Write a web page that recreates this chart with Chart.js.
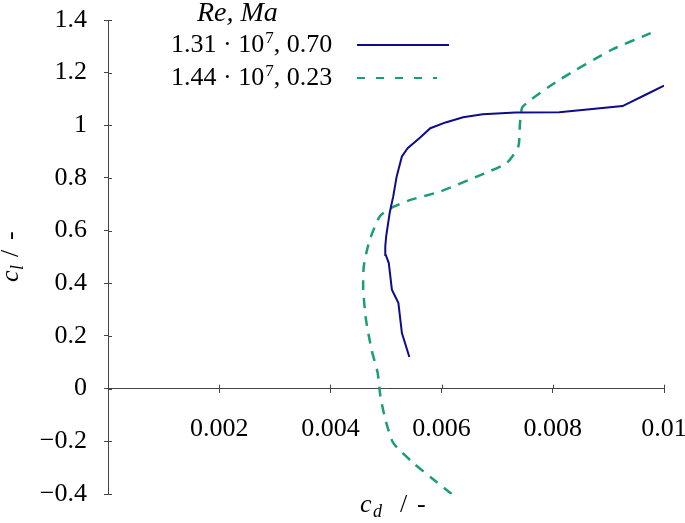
<!DOCTYPE html>
<html>
<head>
<meta charset="utf-8">
<script src="https://cdn.jsdelivr.net/npm/chart.js@4/dist/chart.umd.min.js"></script>
<style>
  html, body { margin: 0; padding: 0; background: #fff; }
  canvas { display: block; }
</style>
</head>
<body>
<canvas id="myChart" width="685" height="523"></canvas>
<script>
// tick values and labels
var xTicks = [0, 0.002, 0.004, 0.006, 0.008, 0.01];
var xTickLabels = ['', '0.002', '0.004', '0.006', '0.008', '0.01'];
var yTicks = [-0.4, -0.2, 0, 0.2, 0.4, 0.6, 0.8, 1, 1.2, 1.4];
var yTickLabels = ['\u22120.4', '\u22120.2', '0', '0.2', '0.4', '0.6', '0.8', '1', '1.2', '1.4'];

// Re = 1.31e7, Ma = 0.70
var cdHigh = [0.00542, 0.005286, 0.005223, 0.005106, 0.00505, 0.004996, 0.004987, 0.005003, 0.005066, 0.00513,
              0.005192, 0.005286, 0.005389, 0.0056, 0.005797, 0.006072, 0.006387, 0.00674, 0.00733, 0.008116,
              0.009255, 0.009687, 0.01];
var clHigh = [0.12, 0.211, 0.325, 0.376, 0.477, 0.508, 0.540, 0.578, 0.667, 0.730,
              0.806, 0.882, 0.913, 0.951, 0.989, 1.011, 1.031, 1.042, 1.049, 1.050,
              1.073, 1.118, 1.151];

// Re = 1.44e7, Ma = 0.23
var cdLow = [0.00618, 0.00582, 0.00549, 0.00513, 0.00499, 0.00490, 0.00485, 0.00474, 0.00464, 0.00459,
             0.00460, 0.00470, 0.00489, 0.00513, 0.00544, 0.00598, 0.00672, 0.00717, 0.00738, 0.00741,
             0.00746, 0.00812, 0.00906, 0.00976];
var clLow = [-0.40, -0.339, -0.282, -0.206, -0.118, -0.03, 0.06, 0.148, 0.262, 0.376,
             0.464, 0.560, 0.655, 0.690, 0.717, 0.749, 0.813, 0.857, 0.920, 1.008,
             1.071, 1.173, 1.287, 1.350];

var legendTitle = 'Re, Ma';
var legendMain = [['1.31 \u00b7 10', '7', ', 0.70'], ['1.44 \u00b7 10', '7', ', 0.23']];

var blue = '#0d0d8c';
var green = '#1b9e77';
var axisColor = '#444';
var serif = '"Liberation Serif", "Times New Roman", serif';

function toPoints(xs, ys) {
  return xs.map(function (x, i) { return {x: x, y: ys[i]}; });
}

// inner half of the tick marks, legend and axis titles
var extras = {
  id: 'extras',
  afterDraw: function (chart) {
    var ctx = chart.ctx;
    var sx = chart.scales.x, sy = chart.scales.y;
    var x0 = sx.getPixelForValue(0), y0 = sy.getPixelForValue(0);
    ctx.save();
    ctx.strokeStyle = axisColor;
    ctx.lineWidth = 1;
    ctx.beginPath();
    yTicks.forEach(function (v) {
      var py = Math.round(sy.getPixelForValue(v)) + 0.5;
      ctx.moveTo(x0, py); ctx.lineTo(x0 + 4, py);
    });
    xTicks.forEach(function (v) {
      if (v === 0) return;
      var px = Math.round(sx.getPixelForValue(v)) + 0.5;
      ctx.moveTo(px, y0); ctx.lineTo(px, y0 - 4);
    });
    ctx.stroke();

    // legend
    ctx.fillStyle = '#000';
    ctx.textBaseline = 'alphabetic';
    ctx.font = 'italic 28px ' + serif;
    ctx.fillText(legendTitle, 197, 21);
    var styles = [{c: blue, d: []}, {c: green, d: [8, 11]}];
    var ends = [449, 437];
    legendMain.forEach(function (parts, i) {
      var base = 52 + i * 33;
      var x = 171;
      ctx.fillStyle = '#000';
      ctx.font = '26px ' + serif;
      ctx.fillText(parts[0], x, base);
      x += ctx.measureText(parts[0]).width;
      ctx.font = '17px ' + serif;
      ctx.fillText(parts[1], x + 1, base - 9);
      x += ctx.measureText(parts[1]).width + 1;
      ctx.font = '26px ' + serif;
      ctx.fillText(parts[2], x, base);
      ctx.strokeStyle = styles[i].c;
      ctx.lineWidth = 2;
      ctx.setLineDash(styles[i].d);
      ctx.beginPath();
      ctx.moveTo(357, base - 7); ctx.lineTo(ends[i], base - 7);
      ctx.stroke();
      ctx.setLineDash([]);
    });

    // axis titles
    ctx.fillStyle = '#000';
    function title(sub, offs) {
      ctx.font = 'italic 26px ' + serif;
      ctx.fillText('c', 0, 0);
      ctx.font = 'italic 18px ' + serif;
      ctx.fillText(sub, offs[0], 5);
      ctx.font = '26px ' + serif;
      ctx.fillText('/', offs[1], 0);
      ctx.fillText('-', offs[2], 0);
    }
    ctx.save();
    ctx.translate(360, 512);
    title('d', [13, 40, 57]);
    ctx.restore();
    ctx.save();
    ctx.translate(18, 282);
    ctx.rotate(-Math.PI / 2);
    title('l', [12, 25, 42]);
    ctx.restore();
    ctx.restore();
  }
};

var ctx = document.getElementById('myChart').getContext('2d');
var myChart = new Chart(ctx, {
  type: 'scatter',
  data: {
    datasets: [{
      label: '1.31e7, 0.70',
      data: toPoints(cdHigh, clHigh),
      showLine: true,
      borderColor: blue,
      borderWidth: 2,
      pointRadius: 0,
      tension: 0
    }, {
      label: '1.44e7, 0.23',
      data: toPoints(cdLow, clLow),
      showLine: true,
      borderColor: green,
      borderWidth: 2.5,
      borderDash: [10, 8],
      pointRadius: 0,
      tension: 0.2
    }]
  },
  options: {
    responsive: false,
    animation: false,
    devicePixelRatio: 1,
    layout: {padding: {top: 20, right: 21, bottom: 29, left: 0}},
    plugins: {
      legend: {display: false},
      tooltip: {enabled: false}
    },
    scales: {
      x: {
        type: 'linear',
        position: {y: 0},
        min: 0,
        max: 0.01,
        afterBuildTicks: function (s) { s.ticks = xTicks.map(function (v) { return {value: v}; }); },
        afterFit: function (s) { s.paddingLeft = 0; s.paddingRight = 0; },
        ticks: {
          autoSkip: false,
          maxRotation: 0,
          padding: 21,
          color: '#000',
          font: {family: serif, size: 26},
          callback: function (v, i) { return xTickLabels[i]; }
        },
        grid: {drawOnChartArea: false, tickLength: 4, color: axisColor},
        border: {color: axisColor}
      },
      y: {
        type: 'linear',
        position: 'left',
        min: -0.4,
        max: 1.4,
        afterBuildTicks: function (s) { s.ticks = yTicks.map(function (v) { return {value: v}; }); },
        afterFit: function (s) { s.width = 108; s.paddingTop = 0; s.paddingBottom = 0; },
        ticks: {
          autoSkip: false,
          padding: 17,
          color: '#000',
          font: {family: serif, size: 26},
          callback: function (v, i) { return yTickLabels[i]; }
        },
        grid: {drawOnChartArea: false, tickLength: 4, color: axisColor},
        border: {color: axisColor}
      }
    }
  },
  plugins: [extras]
});
</script>
</body>
</html>
